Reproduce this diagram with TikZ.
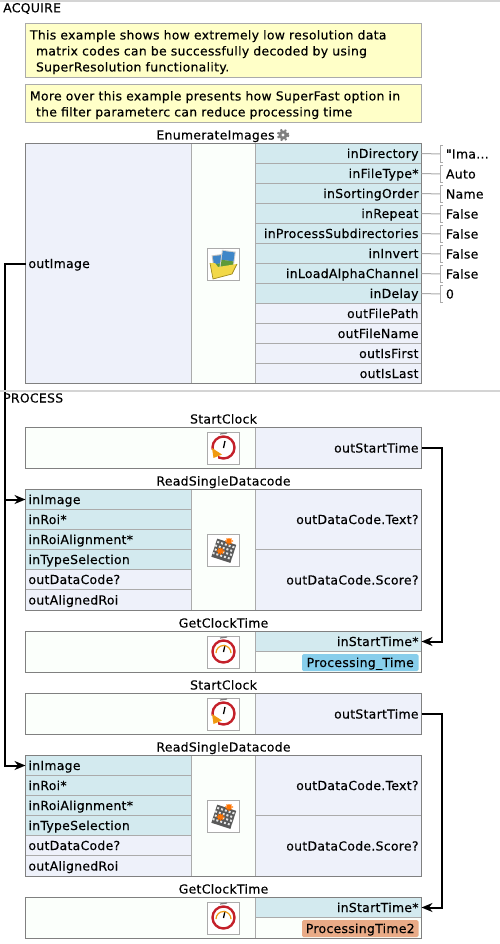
\documentclass[tikz,border=0pt]{standalone}
\usepackage{fontspec}
\newfontfamily\pixelfont[LetterSpace=2.5,FakeBold=0.35]{DejaVu Sans}
\usepackage{xcolor}
\usepackage{tikz}
\usetikzlibrary{arrows.meta}
\definecolor{inFill}{HTML}{D3EAEF}
\definecolor{outFill}{HTML}{EEF1FA}
\definecolor{midFill}{HTML}{FBFFFB}
\definecolor{noteFill}{HTML}{FFFFC8}
\definecolor{gridLine}{HTML}{ABABAB}
\definecolor{frameLine}{HTML}{808080}
\definecolor{sepBar}{HTML}{D4D4D4}
\definecolor{tagBlue}{HTML}{87CEEB}
\definecolor{tagOrange}{HTML}{E9AB87}
\definecolor{clockRed}{HTML}{C4202A}
\definecolor{clockOrange}{HTML}{F09A10}
\definecolor{folderYellow}{HTML}{F2D848}
\definecolor{folderEdge}{HTML}{A08A20}
\definecolor{photoBlue}{HTML}{3F86C8}
\definecolor{photoGreen}{HTML}{5E9A3A}

\begin{document}
\begin{tikzpicture}[
    x=1pt,
    y=-1pt,
    font=\pixelfont\fontsize{12.4}{16}\selectfont,
    cell/.style={
        draw=gridLine,
        line width=1pt,
        minimum height=20pt,
        inner xsep=3pt,
        inner ysep=0pt,
        outer sep=0pt,
        text height=10.5pt,
        text depth=1.5pt
    },
    leftcell/.style={cell, text width=160pt, align=left},
    rightcell/.style={cell, text width=160pt, align=right},
    inleft/.style={leftcell, fill=inFill},
    outleft/.style={leftcell, fill=outFill},
    inright/.style={rightcell, fill=inFill},
    outright/.style={rightcell, fill=outFill},
    midcell/.style={
        draw=gridLine,
        line width=1pt,
        fill=midFill,
        minimum width=64pt,
        outer sep=0pt
    },
    blank/.style={
        draw=gridLine,
        line width=1pt,
        fill=midFill,
        minimum width=230pt,
        minimum height=41pt,
        outer sep=0pt
    },
    frame/.style={
        draw=frameLine,
        line width=1pt,
        minimum width=396pt,
        outer sep=0pt
    },
    note/.style={
        draw=gridLine,
        line width=1pt,
        fill=noteFill,
        minimum width=396pt,
        text width=387pt,
        inner xsep=4.5pt,
        inner ysep=0pt,
        text height=12.5pt,
        align=left,
        outer sep=0pt
    },
    title/.style={inner sep=0pt, text height=10.5pt, text depth=1.5pt},
    section/.style={inner sep=0pt, anchor=west},
    sep/.style={fill=sepBar, minimum width=500pt, inner sep=0pt, outer sep=0pt},
    iconbox/.style={draw=gridLine, line width=1pt, fill=white, minimum size=32pt, inner sep=0pt},
    tag/.style={
        rounded corners=1.5pt,
        minimum width=116.5pt,
        minimum height=17pt,
        inner sep=0pt,
        text height=10.5pt,
        text depth=1.5pt
    },
    paramval/.style={
        anchor=west,
        minimum height=17pt,
        inner xsep=5.5pt,
        inner ysep=0pt,
        outer sep=0pt,
        text height=10.5pt,
        text depth=1.5pt,
        append after command={
            \pgfextra{\draw[param] ([xshift=2.5pt]\tikzlastnode.north west)
                -- (\tikzlastnode.north west) -- (\tikzlastnode.south west)
                -- ([xshift=2.5pt]\tikzlastnode.south west);}
        }
    },
    param/.style={draw=gridLine, line width=1pt},
    wire/.style={-{Stealth[length=11pt,width=9pt]}, line width=2pt, black},
    clockface/.pic={
        \draw[gray, line width=1.2pt] (-3,-14) -- (4,-15);
        \draw[clockRed, line width=2.4pt] (0.5,-0.5) circle (11);
        \draw[black, line width=1.3pt] (2,-7) -- (0.5,0);
    },
    startclock/.pic={
        \pic {clockface};
        \fill[white] (-12,2) rectangle (-5,12);
        \fill[clockOrange] (-11,0) -- (-9.5,10) -- (-1,6.5) -- cycle;
    },
    getclock/.pic={
        \pic {clockface};
        \draw[clockOrange, line width=1.2pt] (-7,1) arc (180:360:7.5);
    },
    codeicon/.pic={
        \begin{scope}[rotate=-18]
            \fill[black!65] (-9,-9) rectangle (11,10);
            \draw[white!80!gray, line width=2pt, dash pattern=on 2pt off 2pt]
                (-8,-6) -- (11,-6) (-9,-2) -- (11,-2) (-8,2) -- (11,2) (-9,6) -- (11,6);
        \end{scope}
        \draw[orange!90!red, line width=1.3pt]
            (6,-12) -- (6,-5) (2,-9) -- (10,-9) (3.5,-11.5) -- (8.5,-6.5) (3.5,-6.5) -- (8.5,-11.5)
            (-2.5,-2.5) -- (-2.5,4.5) (-6.5,1) -- (1.5,1) (-5,-1.5) -- (0,3.5) (-5,3.5) -- (0,-1.5);
    },
    foldericon/.pic={
        \begin{scope}[rotate=8]
            \fill[gray!50] (-10,-10) rectangle (2,6);
            \fill[photoBlue] (-9,-9) rectangle (1,-1);
            \fill[photoGreen] (-9,-1) rectangle (1,5);
        \end{scope}
        \begin{scope}[rotate=-8]
            \fill[gray!35] (-3,-14) rectangle (11,7);
            \fill[photoBlue] (-2,-13) rectangle (10,-4);
            \fill[photoGreen] (-2,-4) rectangle (10,6);
        \end{scope}
        \fill[folderYellow] (-13,-1) -- (-8,-1) -- (-5,3) -- (14,0) -- (9,10) -- (-10,15) -- cycle;
        \draw[folderEdge, line width=.7pt] (-13,-1) -- (-10,15) -- (9,10) -- (14,0);
    }
]
\useasboundingbox (0,0) rectangle (500,944);

% ACQUIRE
\node[sep, minimum height=3pt] (topbar) at (250,1) {};
\node[section] (acquire) at (3,8.5) {ACQUIRE};

\node[note, minimum height=54pt] (noteA) at (223.5,50.5)
{This example shows how extremely low resolution data\\
\hspace*{6pt}matrix codes can be successfully decoded by using\\
\hspace*{6pt}SuperResolution functionality.};

\node[note, minimum height=38pt] (noteB) at (223.5,103.5)
{More over this example presents how SuperFast option in\\
\hspace*{6pt}the filter parameterc can reduce processing time};

% EnumerateImages
\node[title] (enumTitle) at (215.5,135) {EnumerateImages};
\fill[gray] (283,135) circle (4.5);
\draw[gray, line width=2pt, dash pattern=on 2pt off 2.4pt] (283,135) circle (5.4);
\fill[white] (283,135) circle (1.6);

\node[outleft, minimum height=240pt] (outImage) at (108.5,263.5) {outImage};
\node[midcell, minimum height=240pt] (enumMid) at (223.5,263.5) {};
\node[iconbox] (enumIcon) at (223,264) {};
\pic at (enumIcon) {foldericon};

\node[inright] (inDirectory) at (338.5,153.5) {inDirectory};
\node[inright] (inFileType) at (338.5,173.5) {inFileType*};
\node[inright] (inSortingOrder) at (338.5,193.5) {inSortingOrder};
\node[inright] (inRepeat) at (338.5,213.5) {inRepeat};
\node[inright] (inProcessSub) at (338.5,233.5) {inProcessSubdirectories};
\node[inright] (inInvert) at (338.5,253.5) {inInvert};
\node[inright] (inLoadAlpha) at (338.5,273.5) {inLoadAlphaChannel};
\node[inright] (inDelay) at (338.5,293.5) {inDelay};
\node[outright] (outFilePath) at (338.5,313.5) {outFilePath};
\node[outright] (outFileName) at (338.5,333.5) {outFileName};
\node[outright] (outIsFirst) at (338.5,353.5) {outIsFirst};
\node[outright] (outIsLast) at (338.5,373.5) {outIsLast};
\node[frame, minimum height=240pt] (enumFrame) at (223.5,263.5) {};

\node[paramval] (valDirectory) at (440.5,154) {"Ima...};
\node[paramval] (valFileType) at (440.5,174) {Auto};
\node[paramval] (valSorting) at (440.5,194) {Name};
\node[paramval] (valRepeat) at (440.5,214) {False};
\node[paramval] (valProcess) at (440.5,234) {False};
\node[paramval] (valInvert) at (440.5,254) {False};
\node[paramval] (valAlpha) at (440.5,274) {False};
\node[paramval] (valDelay) at (440.5,294) {0};

\draw[param] (inDirectory.east) -- (valDirectory.west);
\draw[param] (inFileType.east) -- (valFileType.west);
\draw[param] (inSortingOrder.east) -- (valSorting.west);
\draw[param] (inRepeat.east) -- (valRepeat.west);
\draw[param] (inProcessSub.east) -- (valProcess.west);
\draw[param] (inInvert.east) -- (valInvert.west);
\draw[param] (inLoadAlpha.east) -- (valAlpha.west);
\draw[param] (inDelay.east) -- (valDelay.west);

% first pass
\node[title] (startTitleA) at (223.5,419) {StartClock};
\node[blank] (startBlankA) at (140.5,448) {};
\node[iconbox] (startIconA) at (223,448) {};
\pic at (startIconA) {startclock};
\node[outright, minimum height=41pt] (outStartA) at (338.5,448) {outStartTime};
\node[frame, minimum height=41pt] (startFrameA) at (223.5,448) {};

\node[title] (readTitleA) at (223.5,481) {ReadSingleDatacode};
\node[inleft] (inImageA) at (108.5,499.5) {inImage};
\node[inleft] (inRoiA) at (108.5,519.5) {inRoi*};
\node[inleft] (inAlignA) at (108.5,539.5) {inRoiAlignment*};
\node[inleft] (inTypeA) at (108.5,559.5) {inTypeSelection};
\node[outleft] (outCodeA) at (108.5,579.5) {outDataCode?};
\node[outleft, minimum height=21pt] (outRoiA) at (108.5,600) {outAlignedRoi};
\node[midcell, minimum height=121pt] (readMidA) at (223.5,550) {};
\node[iconbox] (readIconA) at (223,550) {};
\pic at (readIconA) {codeicon};
\node[outright, minimum height=60pt] (outTextA) at (338.5,519.5) {outDataCode.Text?};
\node[outright, minimum height=61pt] (outScoreA) at (338.5,580) {outDataCode.Score?};
\node[frame, minimum height=121pt] (readFrameA) at (223.5,550) {};

\node[title] (getTitleA) at (223.5,623) {GetClockTime};
\node[blank] (getBlankA) at (140.5,652) {};
\node[iconbox] (getIconA) at (223,652) {};
\pic at (getIconA) {getclock};
\node[inright] (inStartA) at (338.5,641.5) {inStartTime*};
\node[cell, fill=midFill, minimum width=166pt, minimum height=21pt] (tagRowA) at (338.5,662) {};
\node[tag, fill=tagBlue] (tagA) at (360.25,662.5) {Processing\_Time};
\node[frame, minimum height=41pt] (getFrameA) at (223.5,652) {};

% second pass
\node[title] (startTitleB) at (223.5,685) {StartClock};
\node[blank] (startBlankB) at (140.5,714) {};
\node[iconbox] (startIconB) at (223,714) {};
\pic at (startIconB) {startclock};
\node[outright, minimum height=41pt] (outStartB) at (338.5,714) {outStartTime};
\node[frame, minimum height=41pt] (startFrameB) at (223.5,714) {};

\node[title] (readTitleB) at (223.5,747) {ReadSingleDatacode};
\node[inleft] (inImageB) at (108.5,765.5) {inImage};
\node[inleft] (inRoiB) at (108.5,785.5) {inRoi*};
\node[inleft] (inAlignB) at (108.5,805.5) {inRoiAlignment*};
\node[inleft] (inTypeB) at (108.5,825.5) {inTypeSelection};
\node[outleft] (outCodeB) at (108.5,845.5) {outDataCode?};
\node[outleft, minimum height=21pt] (outRoiB) at (108.5,866) {outAlignedRoi};
\node[midcell, minimum height=121pt] (readMidB) at (223.5,816) {};
\node[iconbox] (readIconB) at (223,816) {};
\pic at (readIconB) {codeicon};
\node[outright, minimum height=60pt] (outTextB) at (338.5,785.5) {outDataCode.Text?};
\node[outright, minimum height=61pt] (outScoreB) at (338.5,846) {outDataCode.Score?};
\node[frame, minimum height=121pt] (readFrameB) at (223.5,816) {};

\node[title] (getTitleB) at (223.5,889) {GetClockTime};
\node[blank] (getBlankB) at (140.5,918) {};
\node[iconbox] (getIconB) at (223,918) {};
\pic at (getIconB) {getclock};
\node[inright] (inStartB) at (338.5,907.5) {inStartTime*};
\node[cell, fill=midFill, minimum width=166pt, minimum height=21pt] (tagRowB) at (338.5,928) {};
\node[tag, fill=tagOrange] (tagB) at (360.25,928.5) {ProcessingTime2};
\node[frame, minimum height=41pt] (getFrameB) at (223.5,918) {};

\draw[wire] (outImage.west) -- ++(-20.5,0) |- (inImageA.west);
\draw[wire] (outImage.west) -- ++(-20.5,0) |- (inImageB.west);
\draw[wire] (outStartA.east) -- ++(20.5,0) |- (inStartA.east);
\draw[wire] (outStartB.east) -- ++(20.5,0) |- (inStartB.east);

% PROCESS
\node[sep, minimum height=2pt] (midbar) at (250,391) {};
\node[section] (process) at (3,398) {PROCESS};

\end{tikzpicture}
\end{document}
